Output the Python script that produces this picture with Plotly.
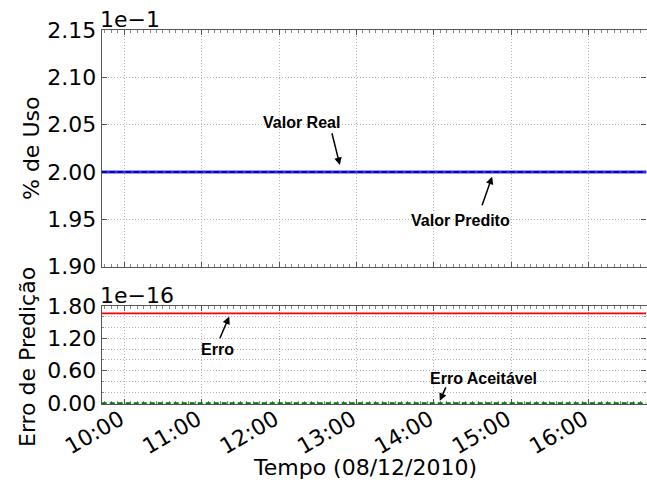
import plotly.graph_objects as go

# ---- data ----
times = ["2010-12-08 09:42:30", "2010-12-08 10:00", "2010-12-08 11:00", "2010-12-08 12:00",
         "2010-12-08 13:00", "2010-12-08 14:00", "2010-12-08 15:00", "2010-12-08 16:00",
         "2010-12-08 16:45"]
valor_real = [0.2, 0.2, 0.2, 0.2, 0.2, 0.2, 0.2, 0.2, 0.2]
valor_predito = [0.2, 0.2, 0.2, 0.2, 0.2, 0.2, 0.2, 0.2, 0.2]
erro = [1.665e-16] * 9
erro_aceitavel = [0.0] * 9

top_scale = 1e-1
bot_scale = 1e-16
top_ticks = [1.90, 1.95, 2.00, 2.05, 2.10, 2.15]
bot_ticks = [0.00, 0.60, 1.20, 1.80]
hour_ticks = ["2010-12-08 10:00", "2010-12-08 11:00", "2010-12-08 12:00", "2010-12-08 13:00",
              "2010-12-08 14:00", "2010-12-08 15:00", "2010-12-08 16:00"]
hour_labels = ["10:00", "11:00", "12:00", "13:00", "14:00", "15:00", "16:00"]

W, H = 647, 483
fig = go.Figure()

fig.add_trace(go.Scatter(x=times, y=[v / top_scale for v in valor_real], mode="lines",
                         line=dict(color="#2a2aff", width=3.2), xaxis="x", yaxis="y", showlegend=False))
fig.add_trace(go.Scatter(x=times, y=[v / top_scale for v in valor_predito], mode="lines",
                         line=dict(color="#000066", width=1.4, dash="5px,3px"), xaxis="x", yaxis="y", showlegend=False))
fig.add_trace(go.Scatter(x=times, y=[v / bot_scale for v in erro], mode="lines",
                         line=dict(color="#ff0000", width=1.8), xaxis="x2", yaxis="y2", showlegend=False))
fig.add_trace(go.Scatter(x=times, y=[v / bot_scale for v in erro_aceitavel], mode="lines",
                         line=dict(color="#007a00", width=1.8, dash="5px,3px"), xaxis="x2", yaxis="y2", showlegend=False))

xr = ["2010-12-08 09:42:30", "2010-12-08 16:45"]
xdom = [101.7 / W, 646.5 / W]
spine = "#555555"
grid = "#b4b4b4"
gdash = "1px,2px"
tickfont = dict(family="DejaVu Sans", size=22, color="black")

common_x = dict(type="date", range=xr, domain=xdom, showline=True, linecolor=spine, linewidth=1.3,
                mirror="allticks", ticks="inside", ticklen=5, tickcolor=spine, automargin=False,
                tickvals=hour_ticks, showgrid=True, gridcolor=grid, griddash=gdash, gridwidth=1,
                zeroline=False, layer="below traces",
                minor=dict(dtick=300000, ticks="inside", ticklen=2.5, tickcolor="#888888", showgrid=False))

common_y = dict(tickformat=".2f", tickfont=tickfont, showline=True, linecolor=spine, linewidth=1.3,
                mirror="allticks", ticks="inside", ticklen=5, tickcolor=spine, automargin=False,
                showgrid=True, gridcolor=grid, griddash=gdash, zeroline=False, layer="below traces")

fig.update_layout(
    width=W, height=H, margin=dict(l=0, r=0, t=0, b=0, autoexpand=False),
    paper_bgcolor="white", plot_bgcolor="white",
    xaxis=dict(**common_x, anchor="y", showticklabels=False),
    yaxis=dict(**common_y, domain=[1 - 266.7 / H, 1 - 30 / H], range=[1.90, 2.15], tickvals=top_ticks,
               anchor="x"),
    xaxis2=dict(**common_x, anchor="y2", ticktext=hour_labels, tickangle=-30, tickfont=tickfont,
                ticklabelstandoff=-7, ticklabelshift=-4),
    yaxis2=dict(**common_y, domain=[1 - 404 / H, 1 - 306 / H], range=[-0.016, 1.8], tickvals=bot_ticks,
                anchor="x2",
                minor=dict(dtick=0.2, ticks="inside", ticklen=2.5, tickcolor="#888888",
                           showgrid=True, gridcolor=grid, griddash=gdash, gridwidth=1)),
)

ann = []
labfont = dict(family="DejaVu Sans", size=22, color="black")


def paper_text(text, px, py, angle=0):
    return dict(text=text, x=px / W, y=1 - py / H, xref="paper", yref="paper",
                xanchor="center", yanchor="middle", showarrow=False, textangle=angle, font=labfont)


ann.append(paper_text("1e\u22121", 130, 19))
ann.append(paper_text("1e\u221216", 137, 295))
ann.append(paper_text("% de Uso", 31, 148, -90))
ann.append(paper_text("Erro de Predição", 27, 357, -90))
ann.append(paper_text("Tempo (08/12/2010)", 365, 467))

bold = dict(family="Liberation Sans", size=16, color="black")


def lab(text, x, y, xr_, yr_):
    return dict(text="<b>" + text + "</b>", x=x, y=y, xref=xr_, yref=yr_, xanchor="center",
                yanchor="middle", showarrow=False, font=bold)


ann.append(lab("Valor Real", "2010-12-08 12:17:48", 2.052, "x", "y"))
ann.append(lab("Valor Predito", "2010-12-08 14:20:54", 1.9486, "x", "y"))
ann.append(lab("Erro", "2010-12-08 11:12:30", 0.993, "x2", "y2"))
ann.append(lab("Erro Aceitável", "2010-12-08 14:38:48", 0.454, "x2", "y2"))
# arrows
arrow = dict(text="", showarrow=True, arrowhead=2, arrowsize=1, arrowwidth=1.5, arrowcolor="black")
ann.append(dict(**arrow, x="2010-12-08 12:47:12", y=2.0074, xref="x", yref="y", ax=-8.3, ay=-33.3))
ann.append(dict(**arrow, x="2010-12-08 14:45:18", y=1.995, xref="x", yref="y", ax=-10.6, ay=30))
ann.append(dict(**arrow, x="2010-12-08 11:21:24", y=1.605, xref="x2", yref="y2", ax=-10, ay=23.3))
ann.append(dict(**arrow, x="2010-12-08 14:04:42", y=0.042, xref="x2", yref="y2", ax=6.7, ay=-15))

fig.update_layout(annotations=ann)
fig.write_html("out.html")
